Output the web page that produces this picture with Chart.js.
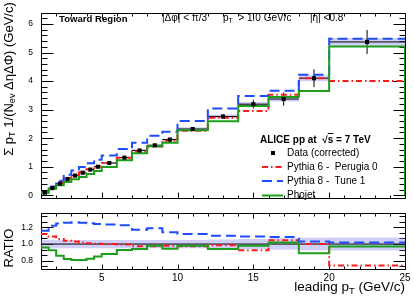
<!DOCTYPE html>
<html><head><meta charset="utf-8">
<script src="https://cdn.jsdelivr.net/npm/chart.js@4.4.1/dist/chart.umd.min.js"></script>
<style>
html,body{margin:0;padding:0;background:#fff;}
#wrap{position:relative;width:414px;height:300px;overflow:hidden;font-family:"Liberation Sans",Arial,Helvetica,sans-serif;color:#000;}
canvas{position:absolute;left:0;}
#cTop{top:0;}
#cRat{top:200px;}
.t{position:absolute;white-space:pre;line-height:1;font-size:10px;}
.t sub{font-size:70%;vertical-align:-0.3em;line-height:0;}
.rot{transform:translate(-50%,-50%) rotate(-90deg);font-size:13px;}
</style></head>
<body><div id="wrap">
<canvas id="cTop" width="414" height="212"></canvas>
<canvas id="cRat" width="414" height="100"></canvas>
<div class="t" style="left:59px;top:13.5px;font-weight:bold;font-size:9.6px">Toward Region</div>
<div class="t" style="left:162px;top:13px">|Δφ| &lt; π/3</div>
<div class="t" style="left:223px;top:13px">p<sub>T</sub>  &gt; 1.0 GeV/c</div>
<div class="t" style="left:310px;top:13px">|η| &lt;0.8</div>
<div class="t" style="left:260px;top:134.6px;font-weight:bold">ALICE pp at  √<span style="text-decoration:overline">s</span> = 7 TeV</div>
<div class="t" style="left:287px;top:148.1px">Data (corrected)</div>
<div class="t" style="left:287px;top:162.1px">Pythia 6 -  Perugia 0</div>
<div class="t" style="left:287px;top:176.1px">Pythia 8 -  Tune 1</div>
<div class="t" style="left:287px;top:190.1px">Phojet</div>
<div class="t rot" style="left:8px;top:79px">Σ p<sub>T</sub> 1/(N<sub>ev</sub> ΔηΔΦ) (GeV/c)</div>
<div class="t rot" style="left:8px;top:248px">RATIO</div>
<div class="t" style="right:9px;top:280px;font-size:13.5px">leading p<sub>T</sub> (GeV/c)</div>
</div>
<script>
// ---- data ----
const binEdges = [1,1.5,2,2.5,3,3.5,4,4.5,5,6,7,8,9,10,12,14,16,18,20,25];
const dataVal  = [0.09,0.25,0.41,0.57,0.69,0.79,0.90,1.00,1.13,1.32,1.57,1.75,1.95,2.32,2.76,3.19,3.37,4.10,5.37];
const dataStat = [0.005,0.005,0.006,0.007,0.008,0.009,0.01,0.011,0.012,0.015,0.02,0.025,0.03,0.04,0.07,0.15,0.23,0.31,0.42];
const dataSysRel = [0.025,0.025,0.025,0.025,0.025,0.025,0.025,0.025,0.025,0.025,0.025,0.025,0.025,0.025,0.025,0.025,0.025,0.025,0.025];
const ratioBand   = [0.05,0.05,0.05,0.05,0.05,0.05,0.05,0.05,0.05,0.05,0.05,0.05,0.05,0.05,0.055,0.06,0.068,0.075,0.078];
const ratioPythia6 = [1.12,1.09,1.06,1.04,1.03,1.02,1.01,1.005,1.0,0.995,0.975,0.975,0.98,0.975,0.985,0.925,1.045,1.0,0.745];
const ratioPythia8 = [1.16,1.22,1.245,1.255,1.26,1.255,1.25,1.24,1.235,1.225,1.17,1.19,1.14,1.12,1.10,1.09,1.085,1.03,1.02];
const ratioPhojet  = [0.96,0.925,0.86,0.82,0.81,0.81,0.825,0.85,0.88,0.93,0.94,0.98,0.945,0.98,0.94,0.98,1.02,0.89,0.97];
const xTickLabels = [5,10,15,20,25];
const yTickLabels = [0,1,2,3,4,5,6];
const ratioTickLabels = [0.8,1,1.2];

// ---- derived ----
const pythia6 = dataVal.map((v,i)=>v*ratioPythia6[i]);
const pythia8 = dataVal.map((v,i)=>v*ratioPythia8[i]);
const phojet  = dataVal.map((v,i)=>v*ratioPhojet[i]);
const centers = dataVal.map((v,i)=>(binEdges[i]+binEdges[i+1])/2);
function steps(vals){
  const pts = vals.map((v,i)=>({x:binEdges[i],y:v}));
  pts.push({x:binEdges[binEdges.length-1],y:vals[vals.length-1]});
  return pts;
}
function segs(vals){
  const pts=[];
  vals.forEach((v,i)=>{pts.push({x:binEdges[i],y:v},{x:binEdges[i+1],y:v},{x:binEdges[i+1],y:null});});
  return pts;
}
function ebars(vals,errs){
  const pts=[];
  vals.forEach((v,i)=>{pts.push({x:centers[i],y:v-errs[i]},{x:centers[i],y:v+errs[i]},{x:centers[i],y:null});});
  return pts;
}
const RED='#ff1a1a', BLUE='#1f4cff', GREEN='#1c9e1c', BAND='rgba(140,140,235,0.42)';
const FONT='"Liberation Sans", Arial, Helvetica, sans-serif';

const framePlugin = {
  id:'frame',
  beforeDatasetsDraw(chart){
    const o = chart.options.plugins.frame;
    const {ctx, chartArea:a} = chart; const xs=chart.scales.x, ys=chart.scales.y;
    const L=Math.round(a.left)+0.5, R=Math.round(a.right)+0.5, T=Math.round(a.top)+0.5, B=Math.round(a.bottom)-0.5;
    ctx.save(); ctx.strokeStyle='#000'; ctx.lineWidth=1;
    ctx.beginPath(); ctx.rect(L,T,R-L,B-T);
    for(let k=Math.ceil(xs.min/o.xStep-1e-6); k*o.xStep<=xs.max+1e-6; k++){
      const p=Math.round(xs.getPixelForValue(k*o.xStep))+0.5;
      const len=(k%o.xPer===0)?o.xMaj:o.xMin;
      ctx.moveTo(p,B); ctx.lineTo(p,B-len); ctx.moveTo(p,T); ctx.lineTo(p,T+len);
    }
    for(let k=Math.ceil(ys.min/o.yStep-1e-6); k*o.yStep<=ys.max+1e-6; k++){
      const p=Math.round(ys.getPixelForValue(k*o.yStep))+0.5;
      const len=(k%o.yPer===0)?o.yMaj:o.yMin;
      ctx.moveTo(L,p); ctx.lineTo(L+len,p); ctx.moveTo(R,p); ctx.lineTo(R-len,p);
    }
    ctx.stroke(); ctx.restore();
  }
};
const legendPlugin = {
  id:'legsym',
  afterDraw(chart){
    const ctx=chart.ctx; ctx.save();
    ctx.fillStyle='#000'; ctx.fillRect(271,151,4,4);
    ctx.lineWidth=2;
    ctx.strokeStyle=RED; ctx.setLineDash([6,3,1.5,3]); ctx.beginPath(); ctx.moveTo(262,167); ctx.lineTo(283,167); ctx.stroke();
    ctx.strokeStyle=BLUE; ctx.setLineDash([10,5]); ctx.beginPath(); ctx.moveTo(262,181); ctx.lineTo(283,181); ctx.stroke();
    ctx.strokeStyle=GREEN; ctx.setLineDash([]); ctx.beginPath(); ctx.moveTo(262,195.5); ctx.lineTo(283,195.5); ctx.stroke();
    ctx.restore();
  }
};
const base = (extra)=>Object.assign({borderWidth:2,pointRadius:0,fill:false,tension:0},extra);

new Chart(document.getElementById('cTop'),{
  type:'line',
  data:{datasets:[
    base({data:steps(dataVal.map((v,i)=>v*(1+dataSysRel[i]))),stepped:true,borderWidth:0,borderColor:'rgba(0,0,0,0)',order:10}),
    base({data:steps(dataVal.map((v,i)=>v*(1-dataSysRel[i]))),stepped:true,borderWidth:0,borderColor:'rgba(0,0,0,0)',fill:'-1',backgroundColor:BAND,order:9}),
    base({data:segs(dataVal),borderColor:'#000',borderWidth:1,order:6}),
    base({data:ebars(dataVal,dataStat),borderColor:'#000',borderWidth:1,order:5}),
    base({data:steps(pythia6),stepped:true,borderColor:RED,borderDash:[6,3,1.5,3],order:4}),
    base({data:steps(pythia8),stepped:true,borderColor:BLUE,borderDash:[10,5],order:3}),
    base({data:steps(phojet).concat([{x:binEdges[binEdges.length-1],y:0}]),stepped:true,borderColor:GREEN,order:2}),
    base({data:dataVal.map((v,i)=>({x:centers[i],y:v})),showLine:false,pointRadius:2.9,pointStyle:'rect',pointBackgroundColor:'#000',pointBorderWidth:0,order:1})
  ]},
  options:{
    responsive:false,animation:false,devicePixelRatio:1,
    layout:{padding:{left:0,right:9,top:4,bottom:3}},
    plugins:{legend:{display:false},tooltip:{enabled:false},
      frame:{xStep:1,xPer:5,xMaj:6,xMin:3,yStep:0.2,yPer:5,yMaj:12,yMin:6}},
    scales:{
      x:{type:'linear',min:1,max:25,display:false},
      y:{type:'linear',min:-0.127,max:6.38,
         afterFit(s){s.width=41;},
         afterBuildTicks(s){s.ticks=yTickLabels.map(v=>({value:v}));},
         grid:{display:false,drawTicks:false},border:{display:false},
         ticks:{padding:8,color:'#000',font:{family:FONT,size:8.5}}}
    }
  },
  plugins:[framePlugin,legendPlugin]
});

new Chart(document.getElementById('cRat'),{
  type:'line',
  data:{datasets:[
    base({data:steps(ratioBand.map(b=>1+b)),stepped:true,borderWidth:0,borderColor:'rgba(0,0,0,0)',order:10}),
    base({data:steps(ratioBand.map(b=>1-b)),stepped:true,borderWidth:0,borderColor:'rgba(0,0,0,0)',fill:'-1',backgroundColor:BAND,order:9}),
    base({data:[{x:binEdges[0],y:1},{x:binEdges[binEdges.length-1],y:1}],borderColor:'#000',borderWidth:1,order:6}),
    base({data:steps(ratioPythia6),stepped:true,borderColor:RED,borderDash:[6,3,1.5,3],order:4}),
    base({data:steps(ratioPythia8),stepped:true,borderColor:BLUE,borderDash:[10,5],order:3}),
    base({data:steps(ratioPhojet),stepped:true,borderColor:GREEN,order:2})
  ]},
  options:{
    responsive:false,animation:false,devicePixelRatio:1,
    layout:{padding:{left:0,right:9,top:9,bottom:0}},
    plugins:{legend:{display:false},tooltip:{enabled:false},
      frame:{xStep:1,xPer:5,xMaj:5,xMin:3,yStep:0.2/3,yPer:3,yMaj:12,yMin:6}},
    scales:{
      x:{type:'linear',min:1,max:25,
         afterFit(s){s.height=30;},
         afterBuildTicks(s){s.ticks=xTickLabels.map(v=>({value:v}));},
         grid:{display:false,drawTicks:false},border:{display:false},
         ticks:{padding:2,maxRotation:0,autoSkip:false,color:'#000',font:{family:FONT,size:10}}},
      y:{type:'linear',min:0.69,max:1.37,
         afterFit(s){s.width=41;},
         afterBuildTicks(s){s.ticks=ratioTickLabels.map(v=>({value:v}));},
         grid:{display:false,drawTicks:false},border:{display:false},
         ticks:{padding:8,color:'#000',font:{family:FONT,size:8.5}}}
    }
  },
  plugins:[framePlugin]
});
</script>
</body></html>
